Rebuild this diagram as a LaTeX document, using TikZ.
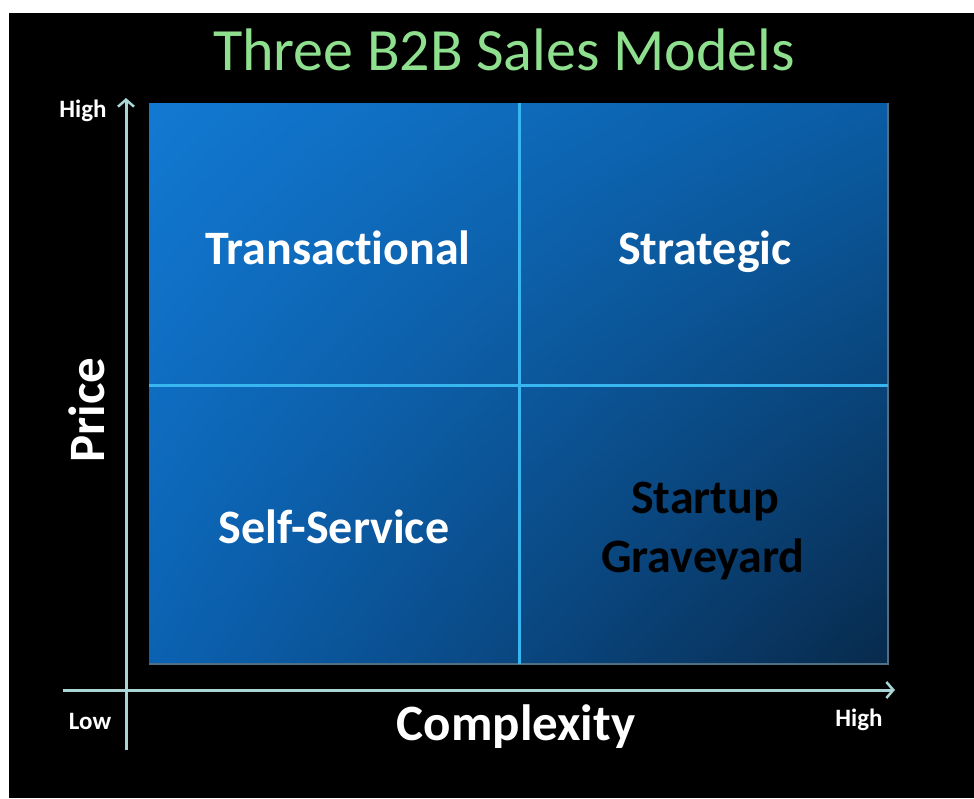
\documentclass[tikz,border=0pt]{standalone}
\usepackage{fontspec}
\setmainfont[Ligatures={NoCommon,NoContextual}]{Carlito}
\usetikzlibrary{arrows.meta,shadings}
\definecolor{titlegreen}{HTML}{8EE08E}
\definecolor{axiscol}{HTML}{A9D6D4}
\definecolor{divcol}{HTML}{38B6F0}
\definecolor{bul}{HTML}{1279D2}
\definecolor{bur}{HTML}{0A5CA4}
\definecolor{bll}{HTML}{0B62B2}
\definecolor{blr}{HTML}{082A4C}
\definecolor{edgecol}{HTML}{4F6F86}
\tikzset{
  x=1pt, y=-1pt,
  quadlabel/.style={font=\bfseries\fontsize{48}{55}\selectfont, text=white, anchor=base, inner sep=0pt},
  smalllabel/.style={font=\bfseries\fontsize{25}{30}\selectfont, text=white, inner sep=0pt},
  axislabel/.style={font=\bfseries\fontsize{51}{58}\selectfont, text=white, inner sep=0pt},
  axisline/.style={draw=axiscol, line width=3pt, -{Straight Barb[length=7pt,width=16pt,line width=2.5pt]}},
  divider/.style={draw=divcol, line width=3pt},
}
\begin{document}
\begin{tikzpicture}
\useasboundingbox (0,0) rectangle (974,798);
\fill[white] (0,0) rectangle (974,798);
\fill[black] (9,13) rectangle (974,798);
% title
\node[font=\fontsize{60}{66}\selectfont, text=titlegreen, inner sep=0pt] (title) at (504,50) {Three B2B Sales Models};
% box
\shade[upper left=bul, upper right=bur, lower left=bll, lower right=blr] (149,103) rectangle (888,664);
\draw[edgecol, line width=1.5pt] (149,664) -- (888,664) -- (888,103);
\coordinate (vtop) at (519,103);
\coordinate (vbot) at (519,664);
\coordinate (hleft) at (149,385);
\coordinate (hright) at (888,385);
\draw[divider] (vtop) -- (vbot);
\draw[divider] (hleft) -- (hright);
% axes
\coordinate (yaxbot) at (126,750);
\coordinate (yaxtop) at (126,98);
\coordinate (xaxleft) at (63,690);
\coordinate (xaxright) at (895,690);
\draw[axisline] (yaxbot) -- (yaxtop);
\draw[axisline] (xaxleft) -- (xaxright);
% quadrant labels
\node[quadlabel] (trans) at (338,264) {Transac\kern0pt tional};
\node[quadlabel] (strat) at (705,264) {Strategic};
\node[quadlabel] (self) at (334,543) {Self-Service};
\node[quadlabel, text=black] (grave1) at (705,513) {Startup};
\node[quadlabel, text=black] (grave2) at (703,572) {Graveyard};
% axis labels
\node[axislabel, rotate=90] (price) at (87,410) {Price};
\node[axislabel] (complex) at (516,727) {Complexity};
\node[smalllabel] (hightop) at (83,111) {High};
\node[smalllabel] (low) at (90,721) {Low};
\node[smalllabel] (highbot) at (859,720) {High};
\end{tikzpicture}
\end{document}
